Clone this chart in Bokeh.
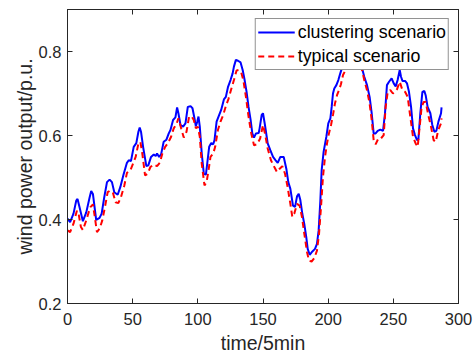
from bokeh.plotting import figure
from bokeh.models import LinearAxis, FixedTicker, Range1d, Legend, LegendItem
from bokeh.embed import file_html
from bokeh.resources import INLINE

# clustering scenario (blue, solid)
clu_x = [0, 2, 4.6, 6.7, 7.7, 9.2, 11.8, 14.4, 17, 18.2, 19.5, 22, 24.6, 26.2, 28.2, 30.3, 32.3, 34.1, 35.9, 38.5,
         40.5, 43, 45.6, 47, 48.7, 50.8, 52.8, 54.4, 55.4, 56.4, 58, 60.5, 62, 64.1, 66.2, 67.7, 68.7, 70.3, 71.8,
         73.8, 75.9, 77.7, 79, 81, 82.8, 84.1, 85.1, 86.7, 88.7, 90.5, 92.3, 94.4, 95.9, 97.4, 98.5, 99.5, 100.5,
         101.5, 103, 104.6, 106.2, 107.2, 108.7, 110.3, 111.8, 112.8, 114.4, 116.4, 117.9, 120, 121.5, 123.1, 125.1,
         126.7, 127.7, 129.2, 130.8, 132.8, 134.4, 135.9, 137.4, 138.9, 140.5, 141.8, 143.1, 144.6, 146.7, 147.4,
         149, 150, 151.5, 153.6, 155.6, 157.7, 159.7, 161.3, 163.3, 165.9, 167.9, 169.4, 171, 173, 174.6, 176.1,
         177.4, 178.6, 180.2, 181.7, 183.2, 184.3, 185.8, 187.9, 189.9, 191.4, 192.7, 194, 195, 196.5, 198.6, 200.1,
         201.7, 202.7, 203.7, 204.7, 206.3, 207.8, 209.3, 210.9, 213, 216, 219, 222, 224, 226, 227.7, 229.8, 231.8,
         233.4, 234.9, 236.4, 238, 240, 242.1, 243.6, 245.1, 246.7, 248.7, 250.3, 251.8, 253.3, 254.9, 255.9, 257,
         259, 260.5, 262, 263.6, 265.1, 266.6, 268.2, 269.2, 270.7, 272.3, 273.8, 274.8, 276.3, 278.4, 279.9, 281.5,
         283, 284.6, 286.6, 287]
clu_y = [0.402, 0.394, 0.414, 0.445, 0.449, 0.43, 0.396, 0.417, 0.453, 0.468, 0.461, 0.399, 0.404, 0.414, 0.453,
         0.489, 0.495, 0.489, 0.465, 0.459, 0.477, 0.507, 0.535, 0.541, 0.539, 0.573, 0.582, 0.609, 0.619, 0.609,
         0.573, 0.527, 0.529, 0.549, 0.555, 0.551, 0.557, 0.549, 0.555, 0.585, 0.59, 0.605, 0.613, 0.637, 0.643,
         0.667, 0.653, 0.625, 0.621, 0.629, 0.668, 0.67, 0.665, 0.641, 0.622, 0.632, 0.645, 0.621, 0.557, 0.509,
         0.507, 0.533, 0.573, 0.582, 0.579, 0.589, 0.633, 0.649, 0.661, 0.686, 0.692, 0.715, 0.732, 0.748, 0.764,
         0.78, 0.778, 0.774, 0.756, 0.732, 0.704, 0.668, 0.637, 0.605, 0.595, 0.605, 0.606, 0.617, 0.649, 0.653,
         0.625, 0.581, 0.565, 0.549, 0.541, 0.535, 0.549, 0.549, 0.521, 0.489, 0.473, 0.433, 0.43, 0.455, 0.461,
         0.447, 0.413, 0.389, 0.358, 0.33, 0.316, 0.324, 0.33, 0.342, 0.374, 0.445, 0.517, 0.561, 0.597, 0.629,
         0.641, 0.668, 0.7, 0.712, 0.72, 0.732, 0.748, 0.764, 0.78, 0.79, 0.80, 0.80, 0.78, 0.76, 0.74, 0.72, 0.692,
         0.653, 0.605, 0.605, 0.611, 0.614, 0.611, 0.653, 0.72, 0.728, 0.736, 0.724, 0.717, 0.732, 0.756, 0.74, 0.73,
         0.73, 0.724, 0.704, 0.668, 0.617, 0.601, 0.589, 0.59, 0.653, 0.704, 0.706, 0.696, 0.668, 0.653, 0.625,
         0.609, 0.611, 0.633, 0.653, 0.667]

# typical scenario (red, dashed)
typ_x = [0, 2, 4.6, 7.2, 8.5, 10.3, 11.8, 14.4, 17.4, 19.5, 21, 22.6, 24.6, 26.7, 28.7, 30.8, 32.8, 34.9, 36.9, 39,
         41, 43.6, 45.6, 48.2, 50.3, 52.3, 54.4, 55.9, 57.4, 59.5, 61.5, 63.6, 66.2, 68.7, 70.8, 72.8, 74.9, 76.9,
         79.5, 81.5, 83.6, 85.1, 87.2, 89.2, 91.3, 93.3, 95.4, 96.9, 98.5, 100, 101.5, 103, 105.1, 106.7, 108.2,
         109.7, 111.8, 113.3, 115.4, 117.4, 119.5, 121.5, 123.6, 125.6, 127.7, 129.7, 131.3, 133.3, 134.9, 136.9,
         138.9, 141, 143.1, 145.5, 147.8, 150, 151.5, 153.6, 156.1, 158.7, 160.7, 162.8, 164.8, 166.9, 168.9, 171,
         172.5, 174, 176.1, 178.1, 179.9, 181.7, 183.8, 185.3, 187.3, 189.4, 191.4, 193, 194.5, 196, 197.6, 199.1,
         200.6, 202.2, 203.7, 205.2, 206.8, 208.3, 209.8, 211.4, 214, 217, 220, 223, 226, 227.7, 229.8, 231.8,
         233.4, 234.9, 236.4, 238.5, 240.5, 242.6, 244.1, 245.7, 247.7, 249.7, 251.3, 252.8, 254.9, 257, 259, 261,
         263, 265.1, 267.1, 268.7, 270.2, 271.7, 273.3, 274.8, 276.8, 278.9, 280.9, 282.5, 284.5, 286.6, 287]
typ_y = [0.374, 0.37, 0.39, 0.421, 0.414, 0.382, 0.375, 0.398, 0.429, 0.436, 0.405, 0.37, 0.378, 0.398, 0.429,
         0.465, 0.469, 0.463, 0.441, 0.439, 0.453, 0.481, 0.511, 0.517, 0.533, 0.549, 0.581, 0.585, 0.557, 0.505,
         0.509, 0.525, 0.531, 0.527, 0.535, 0.557, 0.573, 0.581, 0.597, 0.617, 0.627, 0.641, 0.617, 0.595, 0.609,
         0.645, 0.645, 0.637, 0.617, 0.621, 0.597, 0.533, 0.481, 0.489, 0.517, 0.549, 0.557, 0.573, 0.613, 0.633,
         0.649, 0.67, 0.688, 0.71, 0.732, 0.755, 0.756, 0.75, 0.732, 0.692, 0.645, 0.605, 0.577, 0.579, 0.593,
         0.625, 0.605, 0.569, 0.541, 0.525, 0.513, 0.521, 0.527, 0.509, 0.477, 0.437, 0.406, 0.414, 0.437, 0.433,
         0.406, 0.366, 0.322, 0.302, 0.3, 0.308, 0.326, 0.366, 0.429, 0.501, 0.549, 0.581, 0.605, 0.625, 0.649,
         0.676, 0.696, 0.708, 0.722, 0.744, 0.76, 0.77, 0.78, 0.775, 0.756, 0.732, 0.708, 0.676, 0.637, 0.589,
         0.579, 0.593, 0.593, 0.601, 0.668, 0.704, 0.708, 0.7, 0.704, 0.71, 0.728, 0.708, 0.704, 0.692, 0.645,
         0.597, 0.581, 0.573, 0.621, 0.668, 0.68, 0.68, 0.649, 0.621, 0.589, 0.585, 0.613, 0.629, 0.641]

x_ticks = [0, 50, 100, 150, 200, 250, 300]
y_ticks = [0.2, 0.4, 0.6, 0.8]
x_label = "time/5min"
y_label = "wind power output/p.u."
series_names = ["clustering scenario", "typical scenario"]

FONT = "Liberation Sans"
TXT = "#262626"

p = figure(width=476, height=356, output_backend="svg", toolbar_location=None,
           x_range=Range1d(0, 300), y_range=Range1d(0.2, 0.9),
           x_axis_location=None, y_axis_location=None,
           min_border_left=67, min_border_right=18, min_border_top=9, min_border_bottom=53)
p.xgrid.visible = False
p.ygrid.visible = False
p.outline_line_color = TXT
p.background_fill_color = "white"
p.border_fill_color = "white"

r1 = p.line(clu_x, clu_y, line_color="#0000FF", line_width=2)
r2 = p.line(typ_x, typ_y, line_color="#FF0000", line_width=2, line_dash="6 4")


def make_axis(ticks, label=None, show_labels=True):
    ax = LinearAxis(ticker=FixedTicker(ticks=ticks))
    ax.major_tick_in = 5
    ax.major_tick_out = 0
    ax.minor_tick_line_color = None
    ax.axis_line_color = TXT
    ax.major_tick_line_color = TXT
    ax.major_label_text_font = FONT
    ax.major_label_text_color = TXT
    ax.major_label_text_font_size = "16.5px"
    if not show_labels:
        ax.major_label_overrides = {t: "" for t in ticks}
        ax.major_label_standoff = 0
    if label:
        ax.axis_label = label
        ax.axis_label_text_font = FONT
        ax.axis_label_text_color = TXT
        ax.axis_label_text_font_style = "normal"
        ax.axis_label_text_font_size = "19.5px"
    return ax


bx = make_axis(x_ticks, x_label)
bx.major_label_standoff = 9
bx.axis_label_standoff = 4
ly = make_axis(y_ticks, y_label)
ly.major_label_standoff = 6
ly.axis_label_standoff = 0
p.add_layout(bx, "below")
p.add_layout(ly, "left")
p.add_layout(make_axis(x_ticks, show_labels=False), "above")
p.add_layout(make_axis(y_ticks, show_labels=False), "right")

legend = Legend(items=[LegendItem(label=series_names[0], renderers=[r1]),
                       LegendItem(label=series_names[1], renderers=[r2])],
                location="top_right")
legend.margin = 9
legend.padding = 2
legend.spacing = 2
legend.glyph_width = 37
legend.glyph_height = 22
legend.label_height = 22
legend.label_standoff = 3
legend.label_text_font = FONT
legend.label_text_font_size = "17.8px"
legend.label_text_color = "black"
legend.border_line_color = TXT
legend.border_line_width = 1
legend.background_fill_color = "white"
legend.background_fill_alpha = 1
p.add_layout(legend, "center")

open("out.html", "w").write(file_html(p, INLINE))
